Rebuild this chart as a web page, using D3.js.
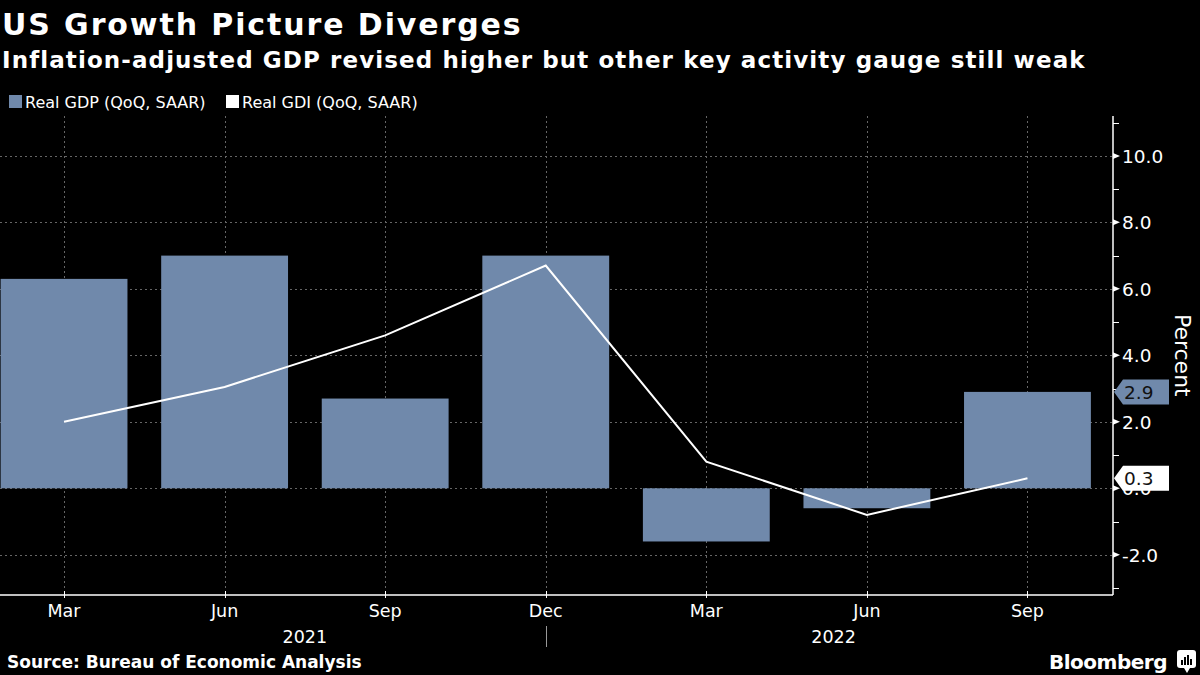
<!DOCTYPE html>
<html><head><meta charset="utf-8">
<script src="https://cdn.jsdelivr.net/npm/d3@7"></script>
<style>html,body{margin:0;padding:0;background:#000;}svg{display:block;}</style>
</head><body>
<svg id="c" width="1200" height="675"></svg>
<script>
const quarters = ["2021Q1","2021Q2","2021Q3","2021Q4","2022Q1","2022Q2","2022Q3"];
const monthLabels = ["Mar","Jun","Sep","Dec","Mar","Jun","Sep"];
const years = [{label:"2021", from:0, to:3}, {label:"2022", from:4, to:6}];
const gdp = [6.3, 7.0, 2.7, 7.0, -1.6, -0.6, 2.9];
const gdi = [2.0, 3.05, 4.6, 6.7, 0.8, -0.8, 0.3];
const yTicks = [-2, 0, 2, 4, 6, 8, 10];
const yMinor = [-3, -1, 1, 3, 5, 7, 9, 11];

const svg = d3.select("#c");
const FONT = "'DejaVu Sans', sans-serif";
const barColor = "#7089ab";
const axisX = 1113, plotTop = 116, plotBottom = 595;
const fmt = v => d3.format(".1f")(v).replace("\u2212","-");

svg.append("rect").attr("width",1200).attr("height",675).attr("fill","#000");

const x = d3.scaleBand().domain(quarters).range([-16.25, 1107.75]).paddingInner(0.21).paddingOuter(0.105);
const y = d3.scaleLinear().domain([-3.15, 11.2]).range([593, plotTop]);
const cx = q => x(q) + x.bandwidth()/2;

// titles
svg.append("text").attr("x",2).attr("y",35).attr("fill","#fff").attr("font-family",FONT)
  .attr("font-weight","bold").attr("font-size",30).attr("letter-spacing",1.9).text("US Growth Picture Diverges");
svg.append("text").attr("x",2).attr("y",68).attr("fill","#fff").attr("font-family",FONT)
  .attr("font-weight","bold").attr("font-size",23).attr("letter-spacing",1.1).text("Inflation-adjusted GDP revised higher but other key activity gauge still weak");

// legend
const lg = svg.append("g").attr("font-family",FONT).attr("font-size",16).attr("fill","#fff");
lg.append("rect").attr("x",9).attr("y",95).attr("width",13).attr("height",13).attr("fill",barColor);
lg.append("text").attr("x",25).attr("y",108).text("Real GDP (QoQ, SAAR)");
lg.append("rect").attr("x",226).attr("y",95).attr("width",13).attr("height",13).attr("fill","#fff");
lg.append("text").attr("x",242).attr("y",108).text("Real GDI (QoQ, SAAR)");

// grid
const grid = svg.append("g").attr("stroke","#666").attr("stroke-width",1).attr("stroke-dasharray","2,3");
grid.selectAll("line.h").data(yTicks).join("line").attr("class","h")
  .attr("x1",0).attr("x2",axisX).attr("y1",d=>Math.round(y(d))+0.5).attr("y2",d=>Math.round(y(d))+0.5);
grid.selectAll("line.v").data(quarters).join("line").attr("class","v")
  .attr("x1",d=>Math.round(cx(d))+0.5).attr("x2",d=>Math.round(cx(d))+0.5).attr("y1",plotTop).attr("y2",plotBottom);

// bars
svg.append("g").selectAll("rect").data(quarters).join("rect")
  .attr("x",d=>x(d)).attr("width",x.bandwidth())
  .attr("y",(d,i)=>y(Math.max(0,gdp[i])))
  .attr("height",(d,i)=>Math.abs(y(gdp[i])-y(0)))
  .attr("fill",barColor);

// line
const line = d3.line().x((d,i)=>cx(quarters[i])).y(d=>y(d));
svg.append("path").datum(gdi).attr("d",line).attr("fill","none").attr("stroke","#fff").attr("stroke-width",2);

// x axis
svg.append("line").attr("x1",0).attr("x2",axisX).attr("y1",plotBottom).attr("y2",plotBottom).attr("stroke","#fff").attr("stroke-width",1.5);
svg.append("g").selectAll("line").data(quarters).join("line")
  .attr("x1",d=>Math.round(cx(d))+0.5).attr("x2",d=>Math.round(cx(d))+0.5).attr("y1",plotBottom-4).attr("y2",plotBottom+3)
  .attr("stroke","#fff").attr("stroke-width",1);
svg.append("g").attr("font-family",FONT).attr("font-size",17.5).attr("fill","#fff").attr("text-anchor","middle")
  .selectAll("text").data(quarters).join("text").attr("x",d=>cx(d)).attr("y",617).text((d,i)=>monthLabels[i]);
svg.append("g").attr("font-family",FONT).attr("font-size",17.5).attr("fill","#fff").attr("text-anchor","middle")
  .selectAll("text").data(years).join("text")
  .attr("x",d=> d.label==="2021" ? (0 + cx(quarters[d.to]))/2+32 : (cx(quarters[d.to])+cx(quarters[3]))/2 + 47)
  .attr("y",643).text(d=>d.label);
// year separator
svg.append("line").attr("x1",Math.round(cx(quarters[3]))+0.5).attr("x2",Math.round(cx(quarters[3]))+0.5)
  .attr("y1",626).attr("y2",647).attr("stroke","#999").attr("stroke-width",1);

// y axis
svg.append("line").attr("x1",axisX).attr("x2",axisX).attr("y1",plotTop).attr("y2",plotBottom).attr("stroke","#fff").attr("stroke-width",1.5);
svg.append("g").selectAll("line").data(yMinor).join("line")
  .attr("x1",axisX).attr("x2",axisX+6).attr("y1",d=>Math.round(y(d))+0.5).attr("y2",d=>Math.round(y(d))+0.5)
  .attr("stroke","#fff").attr("stroke-width",1);
svg.append("g").selectAll("path").data(yTicks).join("path")
  .attr("d",d=>{const yy=y(d);return `M${axisX},${yy-3}L${axisX+7},${yy}L${axisX},${yy+3}Z`;})
  .attr("fill","#fff");
svg.append("g").attr("font-family",FONT).attr("font-size",18.5).attr("fill","#fff")
  .selectAll("text").data(yTicks).join("text").attr("x",1122).attr("y",d=>y(d)+7)
  .text(d=>fmt(d));

// Percent label
svg.append("text").attr("transform",`translate(1175,${y(4.0)}) rotate(90)`).attr("text-anchor","middle")
  .attr("font-family",FONT).attr("font-size",22).attr("fill","#fff").text("Percent");

// value callouts
const callouts = [
  {v: gdp[gdp.length-1], fill: barColor, text:"#111"},
  {v: gdi[gdi.length-1], fill: "#fff", text:"#111"}
];
const cg = svg.append("g");
callouts.forEach(c=>{
  const yy = y(c.v);
  cg.append("path").attr("d",`M${axisX+1},${yy}L${axisX+10},${yy-12.5}L1169,${yy-12.5}L1169,${yy+12.5}L${axisX+10},${yy+12.5}Z`).attr("fill",c.fill);
  cg.append("text").attr("x",1124).attr("y",yy+7).attr("font-family",FONT).attr("font-size",18.5).attr("fill",c.text).text(fmt(c.v));
});

// footer
svg.append("text").attr("x",7).attr("y",668).attr("font-family",FONT).attr("font-weight","bold").attr("font-size",17)
  .attr("fill","#fff").text("Source: Bureau of Economic Analysis");
svg.append("text").attr("x",1167).attr("y",669).attr("text-anchor","end").attr("font-family",FONT).attr("font-weight","bold")
  .attr("font-size",20).attr("fill","#fff").attr("letter-spacing",-0.5).text("Bloomberg");
const logo = svg.append("g");
logo.append("rect").attr("x",1177).attr("y",650).attr("width",19).attr("height",18).attr("rx",3).attr("fill","#fff");
logo.append("path").attr("d","M1184,668L1187,673L1190,668Z").attr("fill","#fff");
[[1181,660,2,5],[1184,657,2,8],[1187,655,2,10],[1190,659,2,6]].forEach(r=>
  logo.append("rect").attr("x",r[0]).attr("y",r[1]).attr("width",r[2]).attr("height",r[3]).attr("fill","#000"));
</script>
</body></html>
